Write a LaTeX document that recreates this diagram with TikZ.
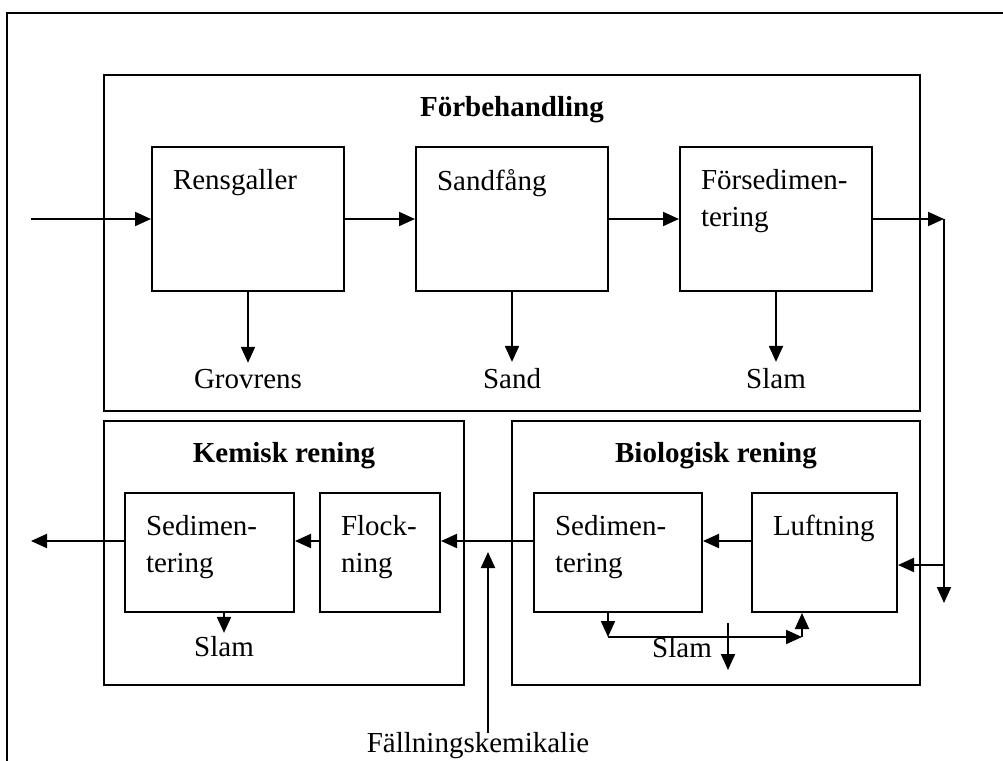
\documentclass[tikz,border=0pt]{standalone}
\usepackage{fontspec}
\setmainfont{Liberation Serif}
\usetikzlibrary{arrows.meta,positioning}

\begin{document}
\fontsize{14.5pt}{18.5pt}\selectfont
\begin{tikzpicture}[x=0.5pt, y=-0.5pt, line width=1pt,
  stagebox/.style = {draw, rectangle, inner sep=0pt},
  procbox/.style = {draw, rectangle, inner sep=0pt, minimum width=96pt, minimum height=72pt},
  txt/.style = {anchor=north west, align=left, inner sep=0pt, xshift=10.5pt, yshift=-11pt},
  head/.style = {anchor=north, font=\bfseries, inner sep=0pt, yshift=-10.5pt},
  outtxt/.style = {anchor=base, inner sep=2.5pt},
  arr/.style = {-{Triangle[length=8pt, width=7pt]}},
  node distance=132pt]
\useasboundingbox (0,0) rectangle (1003,761);
\draw (7,761) -- (7,13) -- (1003,13);

%stages
\node[stagebox, minimum width=408pt, minimum height=168pt, label={[head]north:Förbehandling}] (forb) at (512,243) {};
\node[stagebox, minimum width=180pt, minimum height=132pt, label={[head]north:Kemisk rening}] (kem) at (284,553) {};
\node[stagebox, minimum width=204pt, minimum height=132pt, label={[head]north:Biologisk rening}] (bio) at (716,553) {};

%pretreatment
\node[procbox, label={[txt]north west:Rensgaller}] (rens) at (248,219) {};
\node[procbox, label={[txt]north west:Sandfång}] (sand) [right of=rens] {};
\node[procbox, label={[txt]north west:Försedimen-\\tering}] (forsed) [right of=sand] {};

%treatment
\node[procbox, minimum width=72.5pt, minimum height=59.5pt, label={[txt]north west:Luftning}] (luft) at (824.5,552.5) {};
\node[procbox, minimum width=84pt, minimum height=59.5pt, label={[txt]north west:Sedimen-\\tering}] (bsed) [left=24pt of luft] {};
\node[procbox, minimum width=60pt, minimum height=59.5pt, label={[txt]north west:Flock-\\ning}] (flock) at (380,552.5) {};
\node[procbox, minimum width=84.5pt, minimum height=59.5pt, label={[txt]north west:Sedimen-\\tering}] (ksed) [left=12pt of flock] {};

%residues
\node[outtxt] (grov) at (248,388) {Grovrens};
\node[outtxt] (sandut) at (512,388) {Sand};
\node[outtxt] (slam1) at (776,388) {Slam};
\node[outtxt, inner sep=1pt] (slam2) at (224,656) {Slam};
\node[outtxt] (slam3) at (682,657) {Slam};
\node[outtxt] (fall) at (478,752) {Fällningskemikalie};

\coordinate (in) at (31,219);
\coordinate (out1) at (944,219);
\coordinate (out2) at (944,603);
\coordinate (ret) at (944,565);
\coordinate (flow) at (0,541);
\coordinate (kout) at (31,541);
\coordinate (dos) at (488,733);
\coordinate (s1) at (608,637);
\coordinate (s2) at (802,637);
\coordinate (ex1) at (728,623);
\coordinate (ex2) at (728,670);

\draw[arr] (in) -- (rens);
\draw[arr] (rens) -- (sand);
\draw[arr] (sand) -- (forsed);
\draw[arr] (forsed) -- (out1);
\draw[arr] (out1) -- (out2);
\draw[arr] (ret) -- (ret -| luft.east);

\draw[arr] (rens) -- (grov);
\draw[arr] (sand) -- (sandut);
\draw[arr] (forsed) -- (slam1);

\draw[arr] (luft.west |- flow) -- (bsed.east |- flow);
\draw[arr] (bsed.west |- flow) -- (flock.east |- flow);
\draw[arr] (flock.west |- flow) -- (ksed.east |- flow);
\draw[arr] (ksed.west |- flow) -- (kout);
\draw[arr, shorten >=5.5pt] (dos) -- (dos |- flow);

\draw[arr] (ksed.south -| slam2) -- (slam2);
\draw[arr] (bsed.south -| s1) -- (s1);
\draw[arr] (s1) -- (s2);
\draw[arr] (s2) -- (luft.south -| s2);
\draw[arr] (ex1) -- (ex2);
\end{tikzpicture}
\end{document}
